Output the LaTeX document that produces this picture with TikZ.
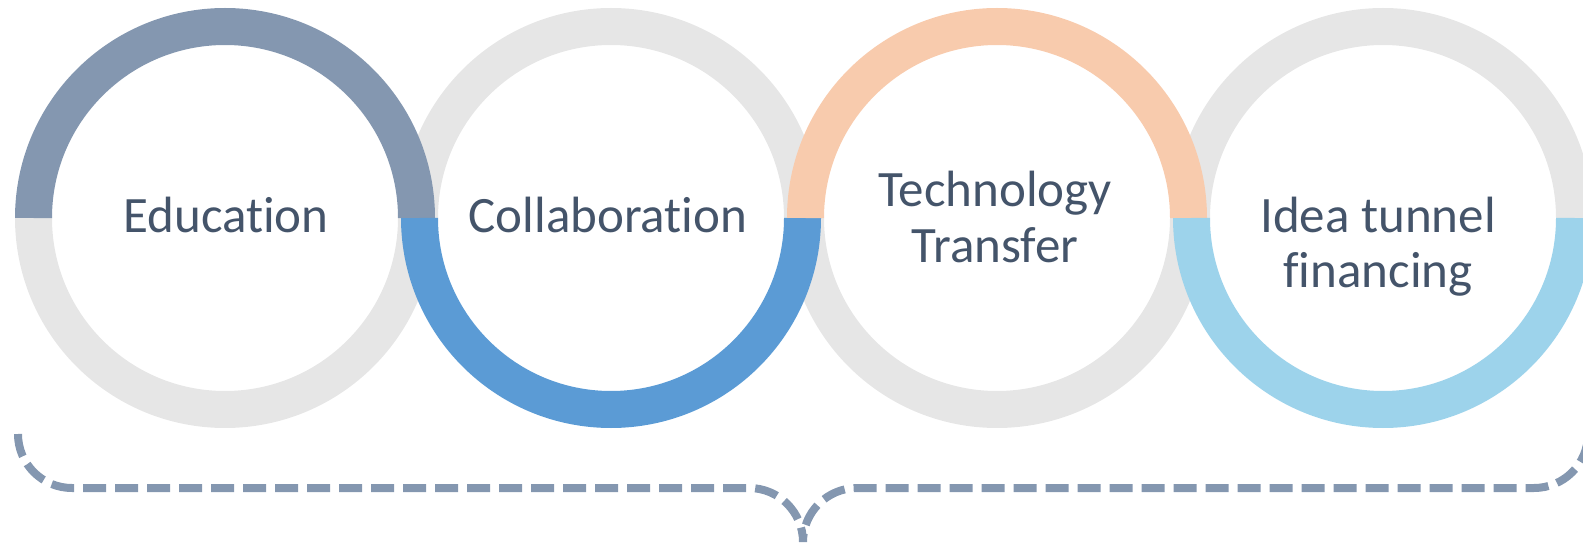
\documentclass[tikz,border=0pt]{standalone}
\usepackage{fontspec}
\setmainfont{Carlito}[Ligatures=NoCommon]
\definecolor{slate}{HTML}{8497B0}
\definecolor{ringgrey}{HTML}{E6E6E6}
\definecolor{accblue}{HTML}{5B9BD5}
\definecolor{peach}{HTML}{F8CBAD}
\definecolor{skyblue}{HTML}{9DD3EB}
\definecolor{txt}{HTML}{44546A}
\begin{document}
\begin{tikzpicture}[x=1pt,y=1pt,
  ringband/.style={line width=37pt, line cap=butt},
  ringtext/.style={text=txt, font=\fontsize{51}{56}\selectfont, align=center, anchor=base, inner sep=0pt},
  bracebar/.style={draw=slate, line width=8pt, line cap=butt, dash pattern=on 23pt off 9pt}]
\useasboundingbox (0,0) rectangle (1583,547);
\clip (0,0) rectangle (1583,547);
\coordinate (c1) at (225,329);
\coordinate (c2) at (611,329);
\coordinate (c3) at (997,329);
\coordinate (c4) at (1383,329);
% grey halves
\draw[ringband, ringgrey] ([xshift=-191.5pt]c1) arc[start angle=180, end angle=360, radius=191.5pt];
\draw[ringband, ringgrey] ([xshift=191.5pt]c2) arc[start angle=0, end angle=180, radius=191.5pt];
\draw[ringband, ringgrey] ([xshift=-191.5pt]c3) arc[start angle=180, end angle=360, radius=191.5pt];
\draw[ringband, ringgrey] ([xshift=191.5pt]c4) arc[start angle=0, end angle=180, radius=191.5pt];
% coloured halves
\draw[ringband, slate] ([xshift=191.5pt]c1) arc[start angle=0, end angle=180, radius=191.5pt];
\draw[ringband, accblue] ([xshift=-191.5pt]c2) arc[start angle=180, end angle=360, radius=191.5pt];
\draw[ringband, peach] ([xshift=191.5pt]c3) arc[start angle=0, end angle=180, radius=191.5pt];
\draw[ringband, skyblue] ([xshift=-191.5pt]c4) arc[start angle=180, end angle=360, radius=191.5pt];
% texts (base anchor = baseline of last line)
\node[ringtext] (t1) at (226,314) {Education};
\node[ringtext] (t2) at (608,314) {Collaboration};
\node[ringtext] (t3) at (995,284) {Technology\\Transfer};
\node[ringtext] (t4) at (1378,259) {Idea tunnel\\financing};
% brace
\coordinate (bl) at (18,113);
\draw[bracebar] (bl) arc[start angle=180, end angle=270, radius=54pt]
  -- (749,59) arc[start angle=90, end angle=0, radius=54pt]
  arc[start angle=180, end angle=90, radius=54pt]
  -- (1534,59) arc[start angle=270, end angle=360, radius=54pt];
\end{tikzpicture}
\end{document}
